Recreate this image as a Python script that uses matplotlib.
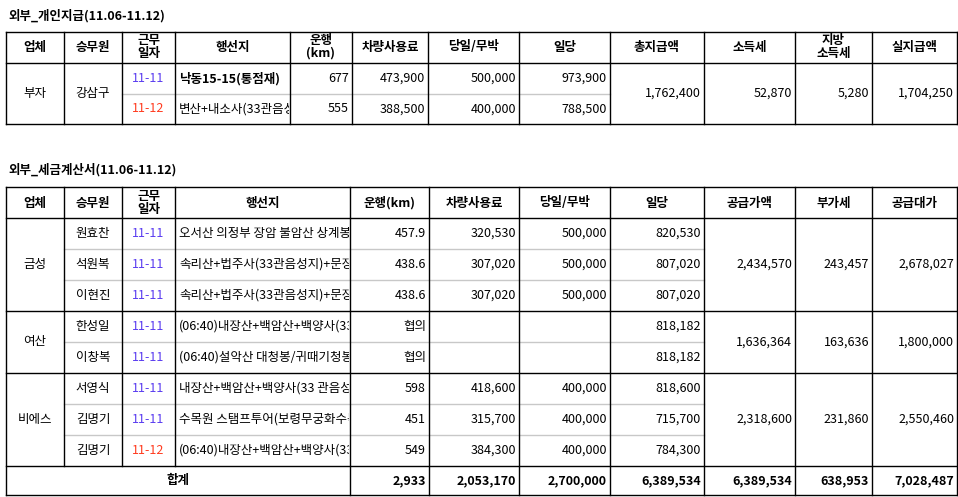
import matplotlib
matplotlib.use("Agg")
import matplotlib.pyplot as plt
from matplotlib.patches import Rectangle

plt.rcParams["font.family"] = ["Noto Sans CJK KR", "Noto Sans CJK JP", "Noto Sans CJK SC", "DejaVu Sans"]

title1 = "외부_개인지급(11.06-11.12)"
head1 = ["업체", "승무원", "근무\n일자", "행선지", "운행\n(km)", "차량사용료", "당일/무박", "일당", "총지급액", "소득세", "지방\n소득세", "실지급액"]
t1_company = "부자"
t1_driver = "강삼구"
t1_dates = ["11-11", "11-12"]
t1_dest = ["낙동15-15(통점재)", "변산+내소사(33관음성지)"]
t1_km = ["677", "555"]
t1_fee = ["473,900", "388,500"]
t1_day = ["500,000", "400,000"]
t1_daily = ["973,900", "788,500"]
t1_total = ["1,762,400", "52,870", "5,280", "1,704,250"]

title2 = "외부_세금계산서(11.06-11.12)"
head2 = ["업체", "승무원", "근무\n일자", "행선지", "운행(km)", "차량사용료", "당일/무박", "일당", "공급가액", "부가세", "공급대가"]
t2_groups = ["금성", "여산", "비에스"]
t2_group_sizes = [3, 2, 3]
t2_drivers = ["원효찬", "석원복", "이현진", "한성일", "이창복", "서영식", "김명기", "김명기"]
t2_dates = ["11-11"] * 7 + ["11-12"]
t2_dest = ["오서산 의정부 장암 불암산 상계봉", "속리산+법주사(33관음성지)+문장대", "속리산+법주사(33관음성지)+문장대",
           "(06:40)내장산+백암산+백양사(33관음)", "(06:40)설악산 대청봉/귀때기청봉",
           "내장산+백암산+백양사(33 관음성지)", "수목원 스탬프투어(보령무궁화수목원)", "(06:40)내장산+백암산+백양사(33)"]
t2_km = ["457.9", "438.6", "438.6", "협의", "협의", "598", "451", "549"]
t2_fee = ["320,530", "307,020", "307,020", "", "", "418,600", "315,700", "384,300"]
t2_day = ["500,000", "500,000", "500,000", "", "", "400,000", "400,000", "400,000"]
t2_daily = ["820,530", "807,020", "807,020", "818,182", "818,182", "818,600", "715,700", "784,300"]
t2_supply = ["2,434,570", "1,636,364", "2,318,600"]
t2_vat = ["243,457", "163,636", "231,860"]
t2_sum = ["2,678,027", "1,800,000", "2,550,460"]
t2_totals = ["2,933", "2,053,170", "2,700,000", "6,389,534", "6,389,534", "638,953", "7,028,487"]

fig = plt.figure(figsize=(9.58, 4.97), dpi=100)
ax = fig.add_axes([0, 0, 1, 1])
ax.set_xlim(0, 958); ax.set_ylim(497, 0); ax.axis("off")
FS = 9.0
BLUE = "#5a3cf0"; RED = "#ff3b1f"

def line(x0, y0, x1, y1, c="black", lw=1.0):
    ax.plot([x0, x1], [y0, y1], color=c, lw=lw, solid_capstyle="projecting")

def txt(x, y, s, ha="center", color="black", bold=False, clip=None, fs=FS):
    t = ax.text(x, y, s, ha=ha, va="center", color=color, fontsize=fs,
                fontweight="bold" if bold else "normal", linespacing=0.95)
    if clip is not None:
        r = Rectangle((clip[0], clip[1]), clip[2] - clip[0], clip[3] - clip[1], transform=ax.transData)
        t.set_clip_path(r)
        t.set_clip_on(True)
    return t

# ---------- Table 1 ----------
txt(8, 16, title1, ha="left", bold=True)
X1 = [6, 64, 122, 175, 290, 352, 428, 519, 610, 704, 795, 872, 957]
Y1 = [32, 63, 94, 124]
for i, h in enumerate(head1):
    txt((X1[i] + X1[i + 1]) / 2, 47, h, bold=True)
for r in range(2):
    yc = (Y1[r + 1] + Y1[r + 2]) / 2
    txt((X1[2] + X1[3]) / 2, yc, t1_dates[r], color=BLUE if r == 0 else RED)
    txt(X1[3] + 4, yc, t1_dest[r], ha="left", bold=(r == 0), clip=(X1[3], Y1[r + 1], X1[4] - 1, Y1[r + 2]))
    for j, v in enumerate([t1_km[r], t1_fee[r], t1_day[r], t1_daily[r]]):
        txt(X1[5 + j] - 3, yc, v, ha="right")
ymid = (Y1[1] + Y1[3]) / 2
txt((X1[0] + X1[1]) / 2, ymid, t1_company)
txt((X1[1] + X1[2]) / 2, ymid, t1_driver)
for j, v in enumerate(t1_total):
    txt(X1[9 + j] - 3, ymid, v, ha="right")
line(X1[2], Y1[2], X1[8], Y1[2], c="#c8c8c8")
for y in Y1[:2] + Y1[3:]:
    line(X1[0], y, X1[-1], y)
for x in X1:
    line(x, Y1[0], x, Y1[3])

# ---------- Table 2 ----------
txt(8, 170, title2, ha="left", bold=True)
X2 = [6, 64, 122, 175, 350, 429, 519, 610, 704, 795, 872, 957]
Y2 = [187, 218]
for k in range(9):
    Y2.append(Y2[-1] + 31)
Y2[-1] = 495
for i, h in enumerate(head2):
    txt((X2[i] + X2[i + 1]) / 2, 203, h, bold=True)
for r in range(8):
    y0, y1 = Y2[r + 1], Y2[r + 2]
    yc = (y0 + y1) / 2
    txt((X2[1] + X2[2]) / 2, yc, t2_drivers[r])
    txt((X2[2] + X2[3]) / 2, yc, t2_dates[r], color=BLUE if t2_dates[r] == "11-11" else RED)
    txt(X2[3] + 4, yc, t2_dest[r], ha="left", clip=(X2[3], y0, X2[4] - 1, y1))
    for j, v in enumerate([t2_km[r], t2_fee[r], t2_day[r], t2_daily[r]]):
        txt(X2[5 + j] - 3, yc, v, ha="right")
start = 0
for g, n in enumerate(t2_group_sizes):
    ya, yb = Y2[1 + start], Y2[1 + start + n]
    ym = (ya + yb) / 2
    txt((X2[0] + X2[1]) / 2, ym, t2_groups[g])
    for j, v in enumerate([t2_supply[g], t2_vat[g], t2_sum[g]]):
        txt(X2[9 + j] - 3, ym, v, ha="right")
    for k in range(1, n):
        line(X2[1], Y2[1 + start + k], X2[8], Y2[1 + start + k], c="#c8c8c8")
    line(X2[0], yb, X2[-1], yb)
    start += n
ytot = (Y2[9] + Y2[10]) / 2
txt((X2[0] + X2[4]) / 2, ytot, "합계", bold=True)
for j, v in enumerate(t2_totals):
    txt(X2[5 + j] - 3, ytot, v, ha="right", bold=True)
line(X2[0], Y2[0], X2[-1], Y2[0]); line(X2[0], Y2[1], X2[-1], Y2[1]); line(X2[0], Y2[10], X2[-1], Y2[10])
for i, x in enumerate(X2):
    if i in (1, 2, 3):
        line(x, Y2[0], x, Y2[9])
    else:
        line(x, Y2[0], x, Y2[10])

fig.savefig("out.png", dpi=100)
